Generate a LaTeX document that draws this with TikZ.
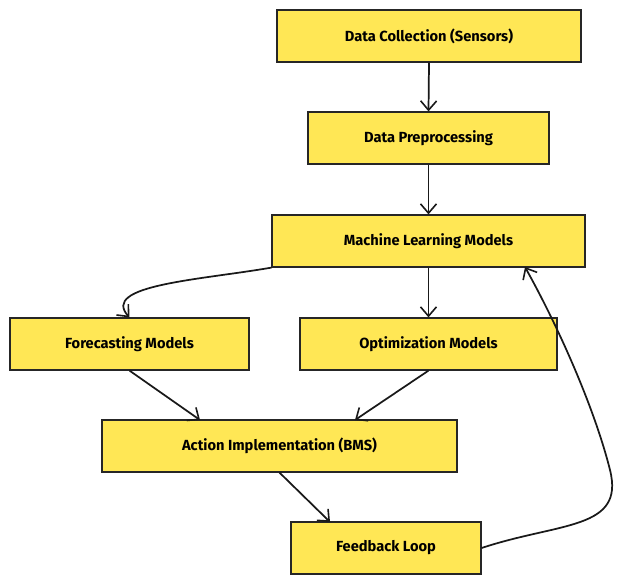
\documentclass[tikz,border=0pt]{standalone}
\usepackage{fontspec}
\setmainfont{Fira Sans}
\usetikzlibrary{arrows.meta}
\definecolor{boxy}{HTML}{FFE755}
\begin{document}
\begin{tikzpicture}[x=0.75pt,y=-0.75pt,
  box/.style={draw=black!85,line width=0.9pt,fill=boxy,inner sep=0pt,font=\fontsize{11}{13}\selectfont\bfseries},
  arr/.style={line width=1.3pt,draw=black!90,-{Straight Barb[length=7pt,width=12pt,line width=1.2pt]}}]
\useasboundingbox (0,0) rectangle (627,585);
\node[box,minimum width=304*0.75pt,minimum height=52*0.75pt] (dc) at (429,36) {Data Collection (Sensors)};
\node[box,minimum width=241*0.75pt,minimum height=52*0.75pt] (dp) at (428.5,138) {Data Preprocessing};
\node[box,minimum width=313*0.75pt,minimum height=52*0.75pt] (ml) at (428.5,241) {Machine Learning Models};
\node[box,minimum width=239*0.75pt,minimum height=52*0.75pt] (fm) at (129.5,344) {Forecasting Models};
\node[box,minimum width=257*0.75pt,minimum height=52*0.75pt] (om) at (428.5,344) {Optimization Models};
\node[box,minimum width=355*0.75pt,minimum height=52*0.75pt] (ai) at (279.5,446) {Action Implementation (BMS)};
\node[box,minimum width=190*0.75pt,minimum height=52*0.75pt] (fl) at (386,548) {Feedback Loop};
\draw[arr] (dc.south) -- (dp.north);
\draw[arr] (dp.south) -- (ml.north);
\draw[arr] (ml.south west) .. controls (200,280) and (100,285) .. (fm.north);
\draw[arr] (ml.south) -- (om.north);
\draw[arr] (fm.south) -- (200,420);
\draw[arr] (om.south) -- (355,420);
\draw[arr] (ai.south) -- (330,522);
\draw[arr] (fl.east) .. controls (560,522) and (625,530) .. (610,470) .. controls (595,410) and (560,330) .. (525,267);
\end{tikzpicture}
\end{document}
